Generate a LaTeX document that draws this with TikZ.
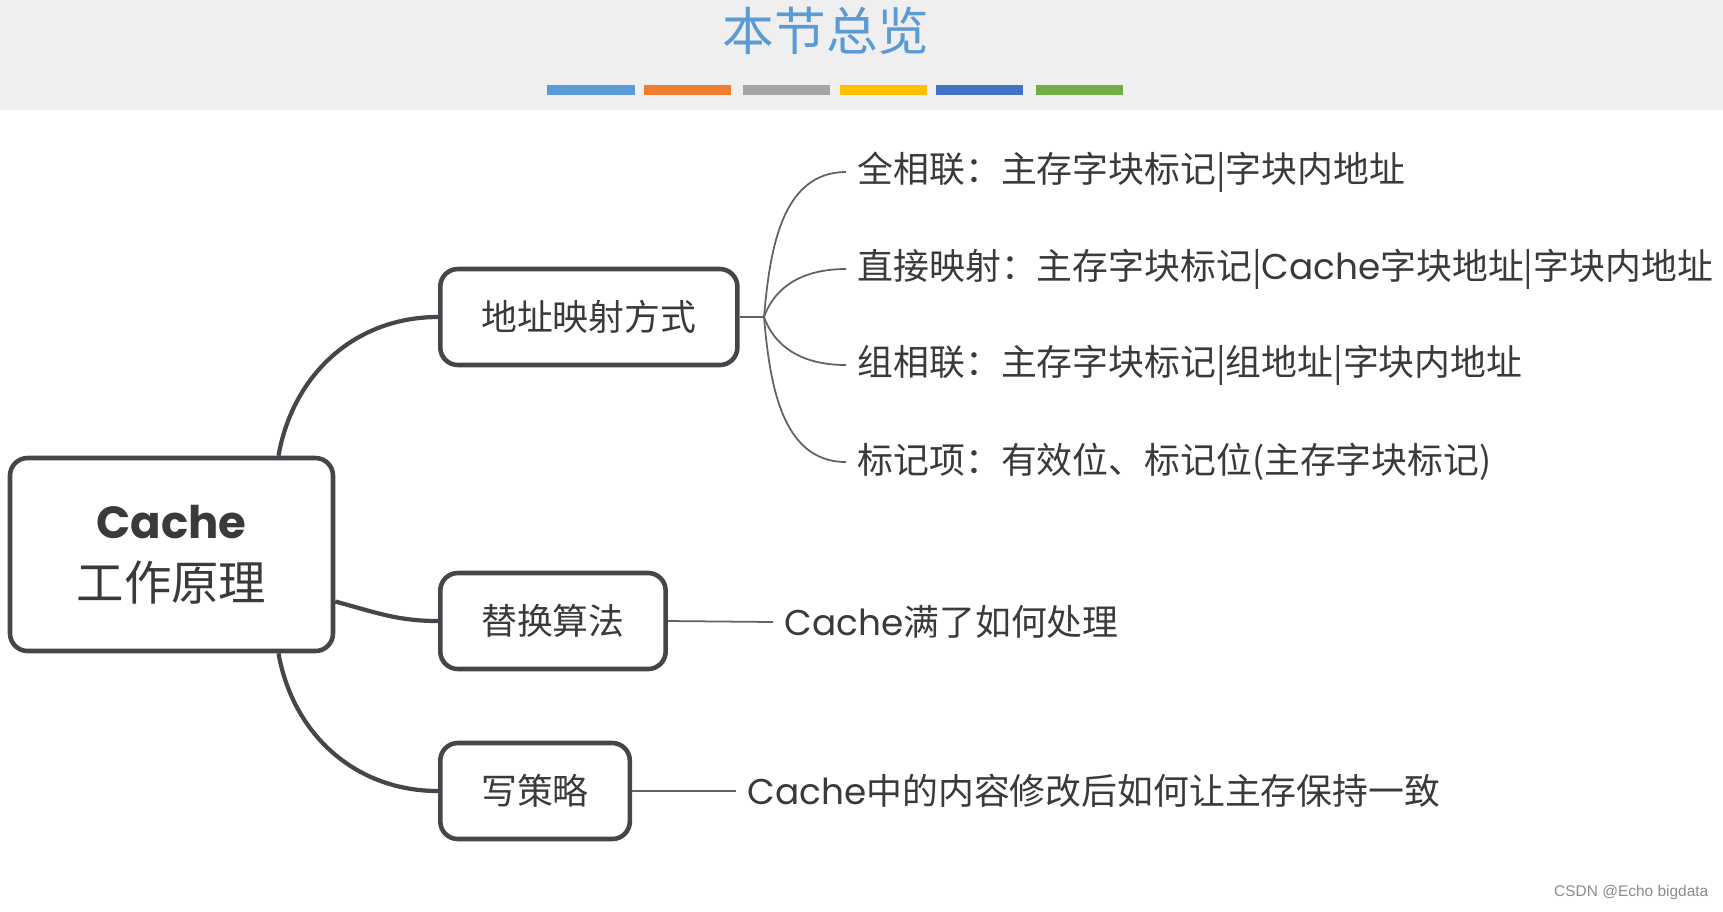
\documentclass[tikz,border=0pt]{standalone}
\usepackage{fontspec}
\setmainfont{Noto Sans CJK SC}
\newfontfamily\latn{Poppins}
\newfontfamily\wmfont{Liberation Sans}

\definecolor{linegray}{HTML}{43474B}
\definecolor{textgray}{HTML}{3A3A3A}
\definecolor{headbg}{HTML}{EFEFEF}
\definecolor{titleblue}{HTML}{5B9BD5}
\definecolor{barblue}{HTML}{5B9BD5}
\definecolor{barorange}{HTML}{ED7D31}
\definecolor{bargray}{HTML}{A5A5A5}
\definecolor{baryellow}{HTML}{FFC000}
\definecolor{bardark}{HTML}{4472C4}
\definecolor{bargreen}{HTML}{70AD47}

\tikzset{
  rootbox/.style={draw=linegray, line width=1.3pt, rounded corners=5pt, fill=white,
    text=textgray, align=center, minimum width=3.23cm, minimum height=1.93cm,
    font=\fontsize{13.5}{17.5}\selectfont},
  topicbox/.style={draw=linegray, line width=1.3pt, rounded corners=5pt, fill=white,
    text=textgray, minimum height=0.96cm, inner xsep=0.41cm, anchor=west,
    font=\fontsize{10.2}{12}\selectfont},
  leaf/.style={text=textgray, inner xsep=0.11cm, inner ysep=0pt, anchor=west,
    font=\fontsize{10.2}{12}\selectfont},
  mainedge/.style={draw=linegray, line width=1.2pt},
  leafedge/.style={draw=linegray!85, line width=0.5pt},
}

\begin{document}
\begin{tikzpicture}
    \useasboundingbox (0,0) rectangle (17.23,-9.11);

    % Kopfzeile
    \fill[white] (0,0) rectangle (17.23,-9.11);
    \fill[headbg] (0,0) rectangle (17.23,-1.10);
    \node[text=titleblue, font=\fontsize{14.7}{16}\selectfont] (title) at (8.26,-0.31) {本节总览};
    \foreach \xa/\xb/\col in {5.47/6.35/barblue, 6.44/7.31/barorange, 7.43/8.30/bargray,
                             8.40/9.27/baryellow, 9.36/10.23/bardark, 10.36/11.23/bargreen}
        \fill[\col] (\xa,-0.85) rectangle (\xb,-0.95);

    % Wurzel und Zweige
    \node[rootbox] (root) at (1.715,-5.545) {{\latn\bfseries\fontsize{12.8}{17.5}\selectfont Cache}\\工作原理};
    \node[topicbox] (mapbox) at (4.38,-3.17) {地址映射方式};
    \node[topicbox] (replbox) at (4.38,-6.21) {替换算法};
    \node[topicbox] (writebox) at (4.38,-7.91) {写策略};

    \draw[mainedge] ([xshift=1.07cm]root.north) to[out=80,in=180] (mapbox.west);
    \draw[mainedge] ([yshift=-0.47cm]root.east) to[out=-15,in=180] (replbox.west);
    \draw[mainedge] ([xshift=1.07cm]root.south) to[out=-80,in=180] (writebox.west);

    % Blaetter
    \node[leaf] (fullassoc) at (8.46,-1.72) {全相联：主存字块标记|字块内地址};
    \node[leaf] (directmap) at (8.46,-2.69) {直接映射：主存字块标记|{\latn Cache}字块地址|字块内地址};
    \node[leaf] (setassoc) at (8.46,-3.65) {组相联：主存字块标记|组地址|字块内地址};
    \node[leaf] (tagentry) at (8.46,-4.62) {标记项：有效位、标记位(主存字块标记)};
    \node[leaf] (replleaf) at (7.73,-6.22) {{\latn Cache}满了如何处理};
    \node[leaf] (writeleaf) at (7.36,-7.91) {{\latn Cache}中的内容修改后如何让主存保持一致};

    \coordinate (split) at (7.64,-3.17);
    \draw[leafedge] (mapbox.east) -- (split);
    \draw[leafedge] (split) to[out=85,in=180] (fullassoc.west);
    \draw[leafedge] (split) to[out=70,in=180] (directmap.west);
    \draw[leafedge] (split) to[out=-70,in=180] (setassoc.west);
    \draw[leafedge] (split) to[out=-85,in=180] (tagentry.west);
    \draw[leafedge] (replbox.east) -- (replleaf.west);
    \draw[leafedge] (writebox.east) -- (writeleaf.west);

    % Wasserzeichen
    \node[anchor=east, inner sep=0pt, text=black!45, font=\wmfont\fontsize{4.4}{5}\selectfont] (mark) at (17.09,-8.92) {CSDN @Echo bigdata};
\end{tikzpicture}
\end{document}
